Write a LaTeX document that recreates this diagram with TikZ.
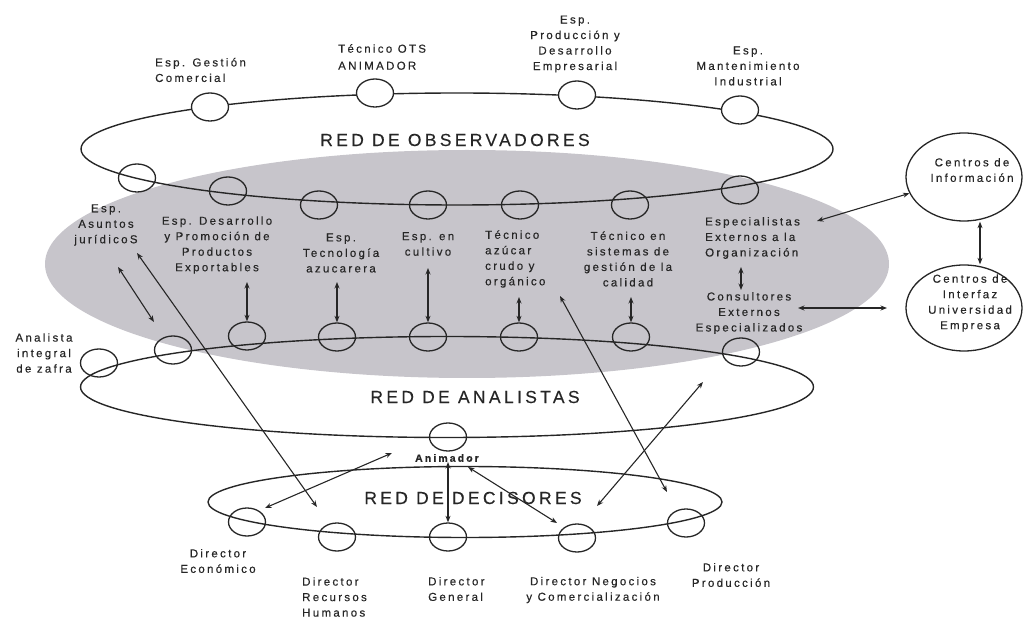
\documentclass[tikz,border=0pt]{standalone}
\usepackage{fontspec}
\setmainfont{Liberation Sans}
\newfontfamily\smf{Liberation Sans}[LetterSpace=20,FakeBold=0.4]
\newfontfamily\bgf{Liberation Sans}[LetterSpace=19,FakeBold=0.3]
\usetikzlibrary{shapes.geometric,arrows.meta}
\definecolor{ink}{HTML}{262626}
\definecolor{zone}{RGB}{199,197,203}
\begin{document}
\begin{tikzpicture}[x=1pt,y=-1pt,
  ring/.style={ellipse,draw=ink,line width=1.4pt,inner sep=0pt},
  sc/.style={ellipse,draw=ink,line width=1.3pt,minimum width=37pt,minimum height=28pt,inner sep=0pt},
  scw/.style={sc,fill=white},
  lbl/.style={font=\smf\fontsize{11.5}{15.5}\selectfont,text=ink,align=center,inner sep=0pt},
  lbll/.style={lbl,align=left},
  bigl/.style={font=\bgf\fontsize{17.5}{20}\selectfont,text=ink,inner sep=0pt},
  dbl/.style={{Stealth[length=6.5pt,width=5pt]}-{Stealth[length=6.5pt,width=5pt]},draw=ink,line width=1.1pt},
]
\useasboundingbox (0,0) rectangle (1023,617);
% zones and rings
\node[ellipse,draw=none,fill=zone,minimum width=844pt,minimum height=228pt,inner sep=0pt] (zone) at (467,264) {};
\node[ring,minimum width=752pt,minimum height=112pt] (obs) at (457,149) {};
\node[ring,minimum width=733pt,minimum height=101pt] (ana) at (447,387) {};
\node[ring,minimum width=514pt,minimum height=71pt] (dec) at (465,502) {};
% observer circles
\node[scw] (o1) at (210,107) {};
\node[scw] (o2) at (375,93) {};
\node[scw] (o3) at (577,95) {};
\node[scw] (o4) at (740,110) {};
\node[sc] (o5) at (137,178) {};
\node[sc] (o6) at (228,191) {};
\node[sc] (o7) at (319,205) {};
\node[sc] (o8) at (428,205) {};
\node[sc] (o9) at (520,205) {};
\node[sc] (o10) at (630,205) {};
\node[sc] (o11) at (740,190) {};
% analyst circles
\node[sc] (a0) at (99,363) {};
\node[sc] (a1) at (173,350) {};
\node[sc] (a2) at (247,336) {};
\node[sc] (a3) at (337,337) {};
\node[sc] (a4) at (428,337) {};
\node[sc] (a5) at (519,337) {};
\node[sc] (a6) at (631,337) {};
\node[sc] (a7) at (741,352) {};
\node[sc] (an) at (448,437) {};
% decision circles
\node[sc] (d1) at (247,522) {};
\node[sc] (d2) at (337,537) {};
\node[sc] (d3) at (448,537) {};
\node[sc] (d4) at (577,538) {};
\node[sc] (d5) at (686,523) {};
% external centres
\node[ellipse,draw=ink,line width=1.3pt,minimum width=116pt,minimum height=88pt,inner sep=0pt] (info) at (964,177) {};
\node[ellipse,draw=ink,line width=1.3pt,minimum width=116pt,minimum height=86pt,inner sep=0pt] (intf) at (964,308) {};
% labels
\node[lbll,anchor=west] (tgc) at (155,70) {Esp. Gestión\\Comercial};
\node[lbll,anchor=west] (tots) at (338,57) {Técnico OTS\\[1.5pt]ANIMADOR};
\node[lbl] (tprod) at (575,44) {Esp.\\Producción y\\Desarrollo\\Empresarial};
\node[lbl] (tmant) at (748,66) {Esp.\\Mantenimiento\\Industrial};
\node[bigl] (tobs) at (455,140) {RED DE OBSERVADORES};
\node[lbl] (tjur) at (106,225) {Esp.\\Asuntos\\jurídicoS};
\node[lbl] (tdes) at (217,245) {Esp. Desarrollo\\y Promoción de\\Productos\\Exportables};
\node[lbl] (ttec) at (341,253) {Esp.\\Tecnología\\azucarera};
\node[lbl] (tcul) at (428,244) {Esp. en\\cultivo};
\node[lbll,anchor=west] (tazu) at (485,259) {Técnico\\azúcar\\crudo y\\orgánico};
\node[lbl] (tsis) at (628,259) {Técnico en\\sistemas de\\gestión de la\\calidad};
\node[lbll,anchor=west] (text) at (705,238) {Especialistas\\Externos a la\\Organización};
\node[lbl] (tcon) at (749,313) {Consultores\\Externos\\Especializados};
\node[lbl] (tinfo) at (972,170) {Centros de\\Información};
\node[lbl] (tintf) at (970,303) {Centros de\\Interfaz\\Universidad\\Empresa};
\node[lbl] (tanz) at (44,353) {Analista\\integral\\de zafra};
\node[bigl] (tana) at (475,397) {RED DE ANALISTAS};
\node[lbl,font=\smf\bfseries\fontsize{10.5}{12}\selectfont] (tanim) at (447,458) {Animador};
\node[bigl] (tdec) at (473,498) {RED DE DECISORES};
\node[lbl] (tde) at (218,561) {Director\\Económico};
\node[lbll,anchor=west] (trh) at (302,597) {Director\\Recursos\\Humanos};
\node[lbll,anchor=west] (tdg) at (428,589) {Director\\General};
\node[lbl] (tdn) at (593,590) {Director Negocios\\y Comercialización};
\node[lbl] (tdp) at (731,575) {Director\\Producción};
% arrow ends
\coordinate (p1a) at (118,267);
\coordinate (p1b) at (154,322);
\coordinate (p2a) at (137,253);
\coordinate (p2b) at (317,507);
\coordinate (p3) at (247,282);
\coordinate (p4) at (337,282);
\coordinate (p5) at (428,268);
\coordinate (p6) at (519,297);
\coordinate (p7) at (631,297);
\coordinate (p8a) at (741,267);
\coordinate (p8b) at (741,290);
\coordinate (p9) at (817,221);
\coordinate (p10) at (980,0);
\coordinate (p11a) at (798,308);
\coordinate (p11b) at (887,308);
\coordinate (p12a) at (560,296);
\coordinate (p12b) at (667,492);
\coordinate (p13a) at (703,382);
\coordinate (p13b) at (597,506);
\coordinate (p14a) at (265,508);
\coordinate (p14b) at (392,453);
\coordinate (p16a) at (468,467);
\coordinate (p16b) at (557,523);
% connectors
\draw[dbl] (p1a) -- (p1b);
\draw[dbl] (p2a) -- (p2b);
\draw[dbl] (p3) -- (a2.north);
\draw[dbl] (p4) -- (a3.north);
\draw[dbl] (p5) -- (a4.north);
\draw[dbl] (p6) -- (a5.north);
\draw[dbl] (p7) -- (a6.north);
\draw[dbl] (p8a) -- (p8b);
\draw[dbl] (p9) -- (info);
\draw[dbl] (info.south -| p10) -- (intf.north -| p10);
\draw[dbl] (p11a) -- (p11b);
\draw[dbl] (p12a) -- (p12b);
\draw[dbl] (p13a) -- (p13b);
\draw[dbl] (p14a) -- (p14b);
\draw[dbl] (tanim.south -| d3) -- (d3.north);
\draw[dbl] (p16a) -- (p16b);
\end{tikzpicture}
\end{document}
